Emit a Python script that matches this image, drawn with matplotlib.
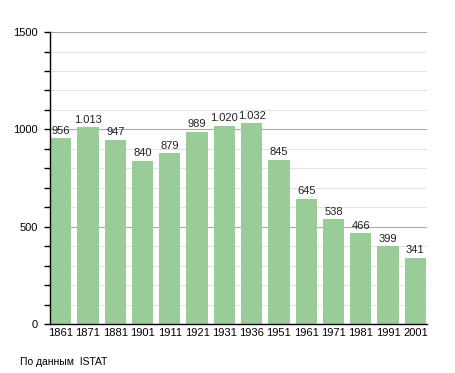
import matplotlib.pyplot as plt
from matplotlib.ticker import MultipleLocator

plt.rcParams['font.family'] = ['Liberation Sans', 'DejaVu Sans']

years = ['1861', '1871', '1881', '1901', '1911', '1921', '1931', '1936',
         '1951', '1961', '1971', '1981', '1991', '2001']
population = [956, 1013, 947, 840, 879, 989, 1020, 1032, 845, 645, 538, 466, 399, 341]
labels = ['956', '1.013', '947', '840', '879', '989', '1.020', '1.032',
          '845', '645', '538', '466', '399', '341']

fig = plt.figure(figsize=(4.55, 3.73), dpi=100)
ax = fig.add_axes([0.11, 0.131, 0.828, 0.783])

x = range(len(years))
ax.bar(x, population, width=0.78, color='#99cc99', zorder=2)
for i, (v, t) in enumerate(zip(population, labels)):
    ax.text(i, v + 12, t, ha='center', va='bottom', fontsize=8, color='#222222')

ax.set_xlim(-0.39, 13.42)
ax.set_ylim(0, 1500)
ax.yaxis.set_major_locator(MultipleLocator(500))
ax.yaxis.set_minor_locator(MultipleLocator(100))
ax.grid(axis='y', which='minor', color='#e4e4e4', lw=0.8, zorder=0)
ax.grid(axis='y', which='major', color='#aaaaaa', lw=0.8, zorder=1)

ax.set_xticks(list(x))
ax.set_xticklabels(years, fontsize=8)
ax.tick_params(axis='x', length=0, pad=3)
ax.tick_params(axis='y', which='both', length=4, width=1, labelsize=8, pad=5)
for s in ['top', 'right']:
    ax.spines[s].set_visible(False)
ax.spines['left'].set_linewidth(1)
ax.spines['bottom'].set_linewidth(1)

fig.text(0.044, 0.015, 'По данным  ISTAT', fontsize=7.5, ha='left', va='bottom')

fig.savefig('out.png', dpi=100)
